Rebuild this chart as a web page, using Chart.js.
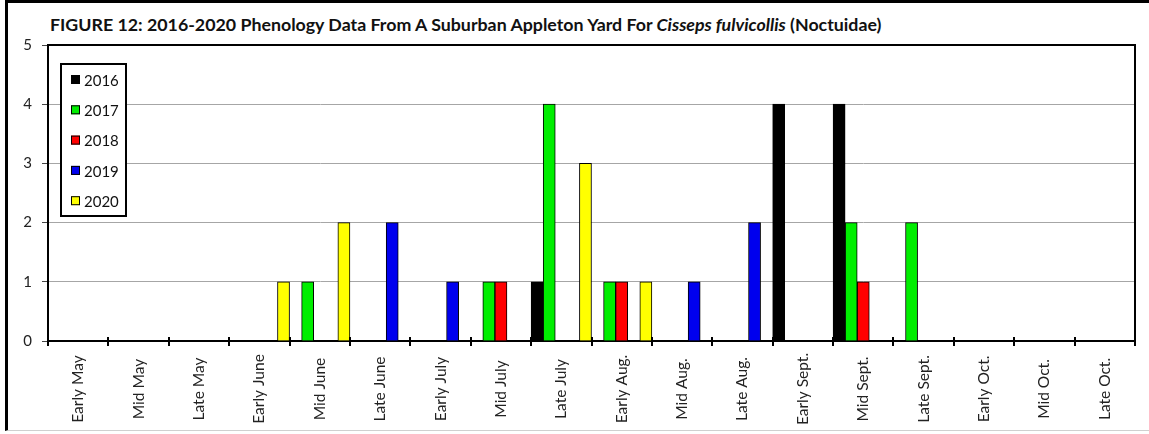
<!DOCTYPE html>
<html>
<head>
  <meta charset="UTF-8">
  <title>Figure 12 - Cisseps fulvicollis phenology</title>
  <script src="https://cdn.jsdelivr.net/npm/chart.js"></script>
  <style>
    body { margin: 0; background: #fff; font-family: Lato, sans-serif; }
    #wrap { position: relative; width: 1149px; height: 434px; overflow: hidden; }
    #frame { position: absolute; left: 5px; top: 0; width: 1144px; height: 427px;
             border-left: 3px solid #000; border-top: 3px solid #000; border-bottom: 1px solid #d0d0d0; }
    #title { position: absolute; left: 50px; top: 13px; font: bold 17.8px Lato, sans-serif; color: #111; white-space: nowrap; }
    canvas { position: absolute; left: 0; top: 0; }
  </style>
</head>
<body>
<div id="wrap">
  <div id="frame"></div>
  <div id="title">FIGURE 12: 2016-2020 Phenology Data From A Suburban Appleton Yard For <i>Cisseps fulvicollis</i> (Noctuidae)</div>
  <canvas id="chart" width="1149" height="434"></canvas>
</div>
<script>
const categories = ['Early May', 'Mid May', 'Late May', 'Early June', 'Mid June', 'Late June',
  'Early July', 'Mid July', 'Late July', 'Early Aug.', 'Mid Aug.', 'Late Aug.',
  'Early Sept.', 'Mid Sept.', 'Late Sept.', 'Early Oct.', 'Mid Oct.', 'Late Oct.'];

const years = ['2016', '2017', '2018', '2019', '2020'];
const colors = ['#000000', '#00ee00', '#ff0000', '#0000ee', '#ffff00'];

const y2016 = [0, 0, 0, 0, 0, 0, 0, 0, 1, 0, 0, 0, 4, 4, 0, 0, 0, 0];
const y2017 = [0, 0, 0, 0, 1, 0, 0, 1, 4, 1, 0, 0, 0, 2, 2, 0, 0, 0];
const y2018 = [0, 0, 0, 0, 0, 0, 0, 1, 0, 1, 0, 0, 0, 1, 0, 0, 0, 0];
const y2019 = [0, 0, 0, 0, 0, 2, 1, 0, 0, 0, 1, 2, 0, 0, 0, 0, 0, 0];
const y2020 = [0, 0, 0, 1, 2, 0, 0, 0, 3, 1, 0, 0, 0, 0, 0, 0, 0, 0];

const series = [y2016, y2017, y2018, y2019, y2020];

// x labels: rotated and centred on a line, like the original
const xLabels = {
  id: 'xLabels',
  afterDraw(chart) {
    const ctx = chart.ctx, xs = chart.scales.x;
    ctx.save();
    ctx.font = '15.5px Lato, sans-serif';
    ctx.fillStyle = '#222';
    ctx.textAlign = 'center';
    ctx.textBaseline = 'middle';
    categories.forEach((c, i) => {
      ctx.save();
      ctx.translate(xs.getPixelForValue(i), 389);
      ctx.rotate(-Math.PI / 2);
      ctx.fillText(c, 0, 0);
      ctx.restore();
    });
    ctx.restore();
  }
};

// box round the plot (top and right sides) + tick marks poking up from the x axis
const plotFrame = {
  id: 'plotFrame',
  afterDraw(chart) {
    const { ctx, chartArea: a } = chart;
    const xs = chart.scales.x;
    ctx.save();
    ctx.strokeStyle = '#000';
    ctx.lineWidth = 2;
    ctx.beginPath();
    ctx.moveTo(a.left, a.top);
    ctx.lineTo(a.right, a.top);
    ctx.lineTo(a.right, a.bottom);
    const half = (xs.getPixelForValue(1) - xs.getPixelForValue(0)) / 2;
    for (let i = 0; i <= categories.length; i++) {
      const px = Math.round(xs.getPixelForValue(i) - half);
      ctx.moveTo(px, a.bottom);
      ctx.lineTo(px, a.bottom - 4);
    }
    ctx.stroke();
    ctx.restore();
  }
};

// legend box inside the plot
const boxLegend = {
  id: 'boxLegend',
  afterDraw(chart) {
    const ctx = chart.ctx;
    const x = 61, y = 64, w = 65, h = 152;
    ctx.save();
    ctx.fillStyle = '#fff';
    ctx.fillRect(x, y, w, h);
    ctx.strokeStyle = '#000';
    ctx.lineWidth = 2;
    ctx.strokeRect(x, y, w, h);
    ctx.font = '15px Lato, sans-serif';
    ctx.textBaseline = 'middle';
    chart.data.datasets.forEach((ds, i) => {
      const cy = y + 16 + i * 30.3;
      ctx.fillStyle = ds.backgroundColor;
      ctx.fillRect(x + 10, cy - 5, 9, 9);
      ctx.lineWidth = 1;
      ctx.strokeRect(x + 10.5, cy - 4.5, 8, 8);
      ctx.fillStyle = '#111';
      ctx.fillText(ds.label, x + 23, cy + 1);
    });
    ctx.restore();
  }
};

new Chart(document.getElementById('chart'), {
  type: 'bar',
  data: {
    labels: categories,
    datasets: years.map((yr, i) => ({
      label: yr,
      data: series[i],
      backgroundColor: colors[i],
      borderColor: '#000',
      borderWidth: 1,
      categoryPercentage: 1,
      barPercentage: 1
    }))
  },
  options: {
    responsive: false,
    animation: false,
    layout: { padding: { top: 45, right: 14, left: 0, bottom: 0 } },
    plugins: { legend: { display: false }, title: { display: false }, tooltip: { enabled: false } },
    scales: {
      x: {
        afterFit(s) { s.height = 93; },
        ticks: { display: false },
        grid: { drawOnChartArea: false, drawTicks: true, tickLength: 5, color: '#000', lineWidth: 2 },
        border: { color: '#000', width: 2 }
      },
      y: {
        min: 0, max: 5,
        afterFit(s) { s.width = 48; },
        ticks: { stepSize: 1, padding: 10, color: '#222', font: { family: 'Lato', size: 15 } },
        grid: { color: '#a6a6a6', tickColor: '#444', tickLength: 6, lineWidth: 1 },
        border: { color: '#000', width: 2 }
      }
    }
  },
  plugins: [xLabels, plotFrame, boxLegend]
});
</script>
</body>
</html>
